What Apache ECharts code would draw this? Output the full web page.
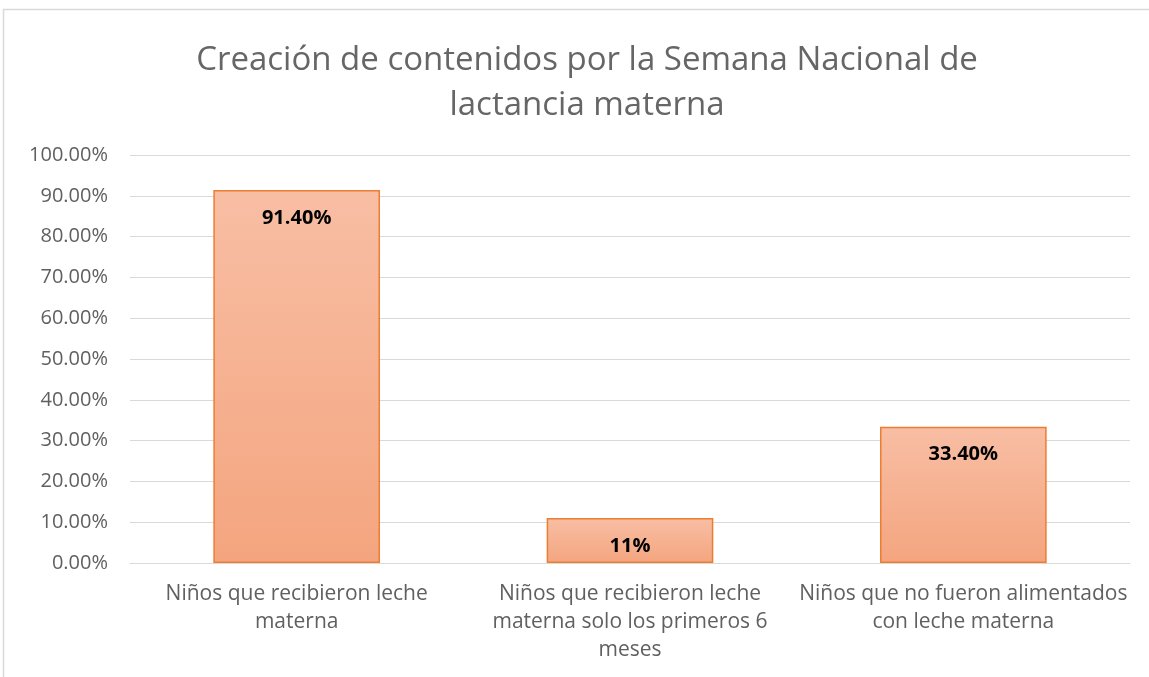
<!DOCTYPE html>
<html>
<head>
    <meta charset="utf-8">
    <title>Creación de contenidos por la Semana Nacional de lactancia materna</title>
    <script src="https://cdn.jsdelivr.net/npm/echarts@6/dist/echarts.min.js"></script>
    <style>
        html, body { margin: 0; padding: 0; background: #fff; }
    </style>
</head>
<body>
    <div id="main" style="width: 1149px; height: 677px;"></div>

    <script>
        const categories = [
            'Niños que recibieron leche\nmaterna',
            'Niños que recibieron leche\nmaterna solo los primeros 6\nmeses',
            'Niños que no fueron alimentados\ncon leche materna'
        ];
        const values = [0.914, 0.11, 0.334];
        const valueLabels = ['91.40%', '11%', '33.40%'];

        const font = "'Open Sans', 'Liberation Sans', sans-serif";

        const chart = echarts.init(document.getElementById('main'));
        chart.setOption({
            animation: false,
            textStyle: { fontFamily: font },
            title: {
                text: 'Creación de contenidos por la Semana Nacional de\nlactancia materna',
                left: 582,
                top: 33,
                textAlign: 'center',
                textStyle: {
                    fontSize: 33,
                    fontWeight: 'normal',
                    color: '#666666',
                    lineHeight: 45,
                    fontFamily: font
                }
            },
            graphic: [{
                type: 'rect',
                shape: { x: 3.5, y: 9.5, width: 1200, height: 720 },
                style: { fill: 'none', stroke: '#d9d9d9', lineWidth: 1.5 },
                silent: true
            }],
            grid: { left: 130, right: 19, top: 155, bottom: 114 },
            xAxis: {
                type: 'category',
                data: categories,
                axisTick: { show: false },
                axisLine: { lineStyle: { color: '#d9d9d9', width: 1 } },
                axisLabel: {
                    color: '#606060',
                    fontSize: 21,
                    lineHeight: 28,
                    margin: 17,
                    interval: 0
                }
            },
            yAxis: {
                type: 'value',
                min: 0,
                max: 1,
                interval: 0.1,
                axisLine: { show: false },
                axisTick: { show: false },
                splitLine: { lineStyle: { color: '#d9d9d9', width: 1 } },
                axisLabel: {
                    color: '#606060',
                    fontSize: 20,
                    margin: 22,
                    formatter: v => (v * 100).toFixed(2) + '%'
                }
            },
            series: [{
                type: 'bar',
                data: values,
                barWidth: '50%',
                itemStyle: {
                    color: new echarts.graphic.LinearGradient(0, 0, 0, 1, [
                        { offset: 0, color: '#f8bea4' },
                        { offset: 1, color: '#f4a57f' }
                    ]),
                    borderColor: '#ed7d31',
                    borderWidth: 1.5
                },
                label: {
                    show: true,
                    position: 'insideTop',
                    distance: 18,
                    color: '#000',
                    fontSize: 20,
                    fontWeight: 'bold',
                    formatter: p => valueLabels[p.dataIndex]
                }
            }]
        });
    </script>
</body>
</html>
